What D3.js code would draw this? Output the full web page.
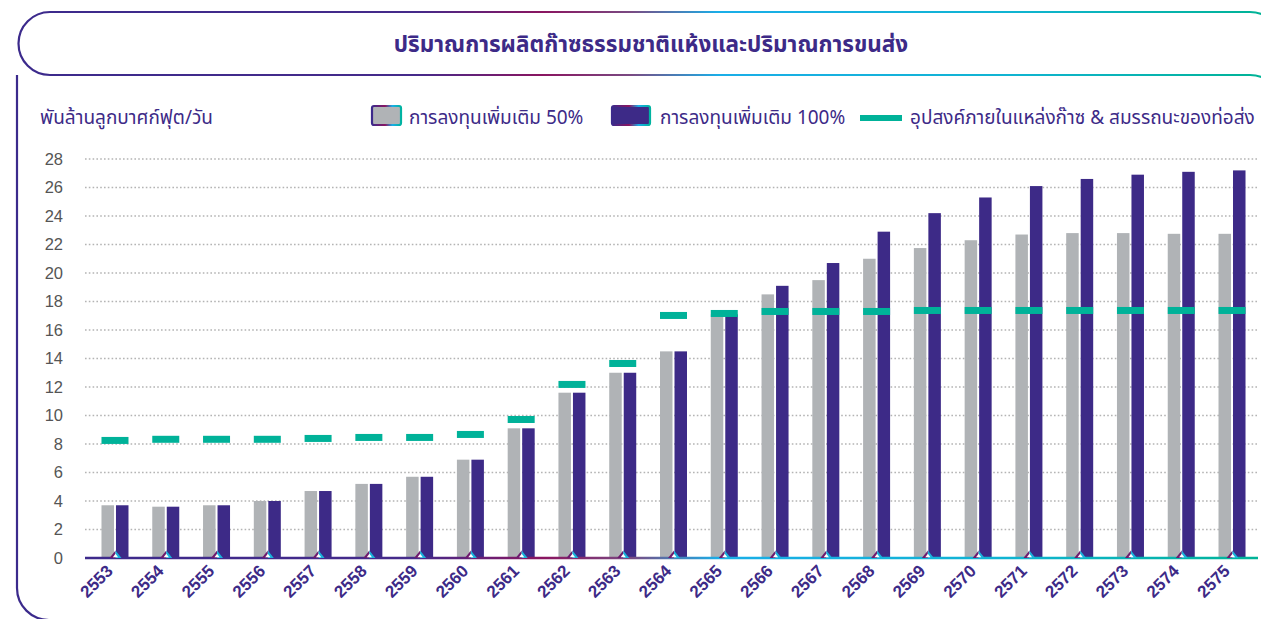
<!DOCTYPE html>
<html>
<head>
<meta charset="utf-8">
<title>ปริมาณการผลิตก๊าซธรรมชาติแห้งและปริมาณการขนส่ง</title>
<script src="https://d3js.org/d3.v7.min.js"></script>
<style>
  body { margin: 0; background: #fff; }
  svg { display: block; font-family: "Liberation Sans", Arial, "Noto Sans", sans-serif; }
  .tick-label { font-size: 16.5px; fill: #555; }
  .thai { font-family: "Noto Sans Thai", "Noto Sans", "Liberation Sans", sans-serif; }
</style>
</head>
<body>
<div id="chart"></div>
<script>
// data
const years = ["2553","2554","2555","2556","2557","2558","2559","2560","2561","2562","2563","2564",
               "2565","2566","2567","2568","2569","2570","2571","2572","2573","2574","2575"];
const invest50 = [3.7, 3.6, 3.7, 4.0, 4.7, 5.2, 5.7, 6.9, 9.1, 11.6, 13.0, 14.5,
                  17.1, 18.5, 19.5, 21.0, 21.75, 22.3, 22.7, 22.8, 22.8, 22.75, 22.75];
const invest100 = [3.7, 3.6, 3.7, 4.0, 4.7, 5.2, 5.7, 6.9, 9.1, 11.6, 13.0, 14.5,
                   17.1, 19.1, 20.7, 22.9, 24.2, 25.3, 26.1, 26.6, 26.9, 27.1, 27.2];
const demand = [8.25, 8.33, 8.33, 8.33, 8.39, 8.46, 8.46, 8.67, 9.72, 12.18, 13.65, 17.02,
                17.16, 17.3, 17.3, 17.3, 17.37, 17.37, 17.37, 17.37, 17.37, 17.37, 17.37];
const yTicks = d3.range(0, 29, 2);
const legendLabels = ["การลงทุนเพิ่มเติม 50%", "การลงทุนเพิ่มเติม 100%", "อุปสงค์ภายในแหล่งก๊าซ & สมรรถนะของท่อส่ง"];
const title = "ปริมาณการผลิตก๊าซธรรมชาติแห้งและปริมาณการขนส่ง";
const unitLabel = "พันล้านลูกบาศก์ฟุต/วัน";

const width = 1261, height = 619;
const purple = "#3d2a87", grey = "#b0b3b6", green = "#00b299";

const svg = d3.select("#chart").append("svg")
    .attr("width", width)
    .attr("height", height);

const defs = svg.append("defs");

// frame gradient along the page width
const frameGrad = defs.append("linearGradient")
    .attr("id", "frame-grad")
    .attr("gradientUnits", "userSpaceOnUse")
    .attr("x1", 0).attr("y1", 0).attr("x2", width).attr("y2", 0);
[[0, "#3b2a8c"], [0.33, "#452a8a"], [0.43, "#8a1560"], [0.5, "#7a4a82"], [0.57, "#1aaee8"],
 [0.8, "#10b4d2"], [1, "#00b396"]].forEach(s =>
    frameGrad.append("stop").attr("offset", s[0]).attr("stop-color", s[1]));

// swatch border gradient
const swGrad = defs.append("linearGradient").attr("id", "swatch-grad")
    .attr("x1", "0%").attr("x2", "100%");
[[0, "#3b2a8c"], [0.45, "#8a1560"], [0.7, "#1aaee8"], [1, "#00b3a0"]].forEach(s =>
    swGrad.append("stop").attr("offset", s[0]).attr("stop-color", s[1]));

// title box
svg.append("path")
    .attr("d", "M1250,12 L50,12 A31.5,31.5 0 0 0 50,75 L1250,75")
    .attr("fill", "none")
    .attr("stroke", "url(#frame-grad)")
    .attr("stroke-width", 2.2);
svg.append("path")
    .attr("d", "M1250,12 A32,32 0 0 1 1282,44")
    .attr("fill", "none").attr("stroke", "url(#frame-grad)").attr("stroke-width", 2.2);
svg.append("path")
    .attr("d", "M1250,75 A32,32 0 0 1 1282,107")
    .attr("fill", "none").attr("stroke", "url(#frame-grad)").attr("stroke-width", 2.2);

// outer frame, left side
svg.append("path")
    .attr("d", "M17,75 L17,588 A32,32 0 0 0 49,620")
    .attr("fill", "none")
    .attr("stroke", "#3b2a8c")
    .attr("stroke-width", 2.2);

svg.append("text")
    .attr("class", "thai")
    .attr("x", 651).attr("y", 52)
    .attr("text-anchor", "middle")
    .attr("font-size", 22.5)
    .attr("font-weight", "bold")
    .attr("fill", purple)
    .text(title);

// scales
const x = d3.scaleBand().domain(years).range([89.6, 1257.4]).padding(0);
const y = d3.scaleLinear().domain([0, 28]).range([558, 159]);
const cx = d => x(d) + x.bandwidth() / 2;

// grid
svg.append("g").selectAll("line")
    .data(yTicks.filter(t => t > 0))
    .join("line")
    .attr("x1", 85).attr("x2", 1258)
    .attr("y1", d => y(d)).attr("y2", d => y(d))
    .attr("stroke", "#b4b4b4")
    .attr("stroke-width", 1.6)
    .attr("stroke-dasharray", "1.6,2.2");

// y axis
const yAxis = svg.append("g")
    .attr("transform", "translate(63,0)")
    .call(d3.axisLeft(y).tickValues(yTicks).tickSize(0).tickPadding(0));
yAxis.select(".domain").remove();
yAxis.selectAll("text")
    .attr("class", "tick-label")
    .attr("font-family", null).attr("font-size", null).attr("fill", null);

// bars
const groups = svg.append("g").selectAll("g")
    .data(years)
    .join("g");

groups.append("rect")
    .attr("x", d => cx(d) - 13.5)
    .attr("width", 12.5)
    .attr("y", (d, i) => y(invest50[i]))
    .attr("height", (d, i) => y(0) - y(invest50[i]))
    .attr("fill", grey);

groups.append("rect")
    .attr("x", d => cx(d) + 1)
    .attr("width", 12.5)
    .attr("y", (d, i) => y(invest100[i]))
    .attr("height", (d, i) => y(0) - y(invest100[i]))
    .attr("fill", purple);

groups.append("rect")
    .attr("x", d => cx(d) - 13.5)
    .attr("width", 27)
    .attr("y", (d, i) => y(demand[i]) - 3.5)
    .attr("height", 7)
    .attr("fill", green);

// base axis line
svg.append("line")
    .attr("x1", 85).attr("x2", 1258)
    .attr("y1", y(0)).attr("y2", y(0))
    .attr("stroke", "url(#frame-grad)")
    .attr("stroke-width", 2.4);

// little markers on the base line
const marks = svg.append("g").selectAll("g")
    .data(years)
    .join("g")
    .attr("transform", d => `translate(${cx(d) + 0.5},${y(0)})`);
marks.append("path").attr("d", "M-6,0 L0,-7.5 L0,0 Z").attr("fill", "#6e1a6e");
marks.append("path").attr("d", "M0,0 L0,-7.5 L6,0 Z").attr("fill", "#19b3dc");
marks.append("path").attr("d", "M-2.6,-0.8 L0,-4.2 L2.6,-0.8 Z").attr("fill", "#fff");

// x labels
svg.append("g").selectAll("text")
    .data(years)
    .join("text")
    .attr("transform", d => `translate(${cx(d) - 10},${563}) rotate(-45)`)
    .attr("text-anchor", "end")
    .attr("dy", "0.75em")
    .attr("font-size", 17)
    .attr("font-weight", "bold")
    .attr("fill", purple)
    .text(d => d);

// unit label
svg.append("text")
    .attr("class", "thai")
    .attr("x", 40).attr("y", 124)
    .attr("font-size", 19)
    .attr("fill", purple)
    .text(unitLabel);

// legend
const lg = svg.append("g");
lg.append("rect").attr("x", 372).attr("y", 106).attr("width", 29).attr("height", 19).attr("rx", 2)
    .attr("fill", grey).attr("stroke", "url(#swatch-grad)").attr("stroke-width", 2.2);
lg.append("text").attr("class", "thai").attr("x", 409).attr("y", 124)
    .attr("font-size", 19).attr("fill", purple).text(legendLabels[0]);
lg.append("rect").attr("x", 612).attr("y", 106).attr("width", 38).attr("height", 19).attr("rx", 2)
    .attr("fill", purple).attr("stroke", "url(#swatch-grad)").attr("stroke-width", 2.2);
lg.append("text").attr("class", "thai").attr("x", 660).attr("y", 124)
    .attr("font-size", 19).attr("fill", purple).text(legendLabels[1]);
lg.append("rect").attr("x", 860).attr("y", 115).attr("width", 42).attr("height", 6)
    .attr("fill", green);
lg.append("text").attr("class", "thai").attr("x", 910).attr("y", 124)
    .attr("font-size", 19).attr("fill", purple).text(legendLabels[2]);
</script>
</body>
</html>
